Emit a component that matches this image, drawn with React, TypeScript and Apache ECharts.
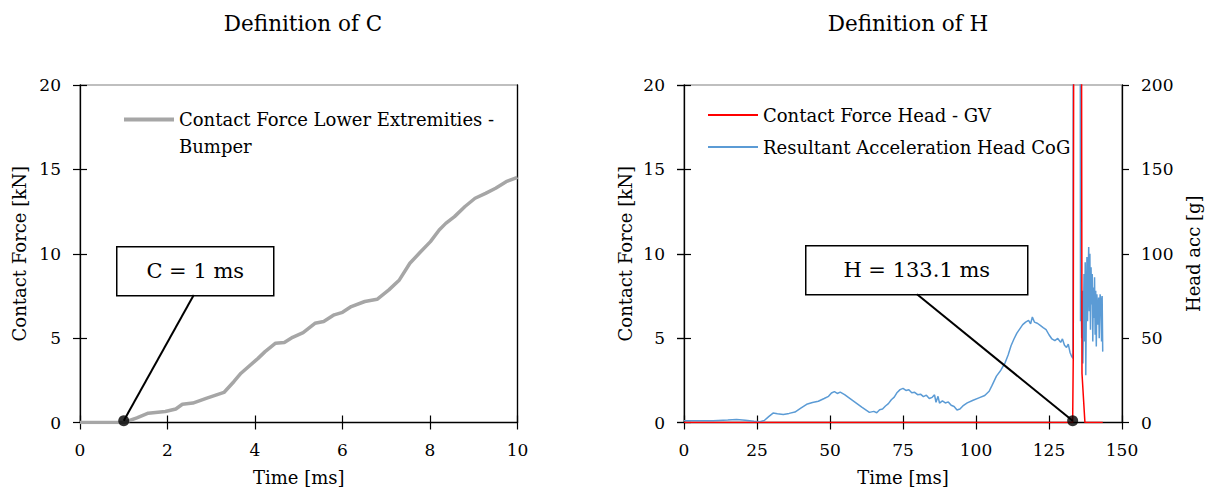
import React, { useEffect, useRef } from "react";
import * as echarts from "echarts";

const FONT = "DejaVu Serif";

// Left chart: Definition of C
const leftTime = [0, 1.0, 1.3, 1.56, 1.95, 2.19, 2.34, 2.58, 2.9, 3.29, 3.52, 3.68, 4.07, 4.23, 4.47, 4.67, 4.86, 5.1, 5.37, 5.57, 5.81, 6.0, 6.2, 6.51, 6.79, 7.06, 7.3, 7.54, 7.77, 8.01, 8.21, 8.36, 8.56, 8.8, 9.03, 9.27, 9.5, 9.74, 10];
const leftForce = [0, 0, 0.28, 0.55, 0.65, 0.8, 1.08, 1.15, 1.44, 1.78, 2.43, 2.92, 3.8, 4.2, 4.7, 4.74, 5.05, 5.33, 5.88, 5.98, 6.38, 6.53, 6.87, 7.17, 7.3, 7.86, 8.45, 9.44, 10.07, 10.72, 11.41, 11.8, 12.2, 12.8, 13.29, 13.58, 13.88, 14.27, 14.53];

// Right chart: Definition of H
const accTime = [0, 5, 10, 15, 18, 21, 24, 26, 27.5, 29, 30.5, 32, 34, 36, 38, 40, 42, 44, 46, 48, 49.5, 50.5, 51.5, 52.5, 53.5, 55, 57, 59, 61, 62.5, 63.5, 65, 66, 67, 68, 69, 70, 71, 72, 73, 74, 75, 76, 77, 78, 79, 80, 81, 82, 83, 84, 85, 85.8, 86.3, 87, 87.5, 88.5, 89.5, 90.5, 91.5, 92.5, 93.5, 94.5, 95.5, 97, 99, 101, 103, 104.5, 105.5, 107, 108.5, 110, 111, 112, 113, 114, 115, 116, 117, 118, 118.7, 119.3, 120, 121, 122, 123, 124, 125, 126, 127, 128, 129, 129.6, 130.3, 131, 131.6, 132.2, 132.8, 133.2, 133.4, 135.6, 135.8, 136.0, 136.2, 136.4, 136.6, 136.8, 137.0, 137.2, 137.4, 137.6, 137.8, 138.0, 138.2, 138.4, 138.6, 138.8, 139.0, 139.2, 139.4, 139.6, 139.8, 140.0, 140.2, 140.4, 140.6, 140.8, 141.0, 141.2, 141.4, 141.7, 142.0, 142.2, 142.5, 142.8, 143.0, 143.2, 143.4];
const accG = [1.0, 1.0, 1.1, 1.5, 1.8, 1.3, 0.8, 0.5, 1.2, 3.5, 5.6, 5.2, 4.8, 5.4, 6.2, 8.5, 10.8, 11.8, 12.6, 14.2, 15.5, 17.5, 18.3, 17.2, 18.0, 16.5, 14.0, 11.5, 9.0, 7.2, 6.0, 6.6, 5.8, 7.6, 8.0, 9.8, 11.2, 13.5, 15.0, 17.8, 19.5, 20.2, 19.0, 19.4, 17.6, 17.9, 16.5, 16.8, 15.3, 16.2, 14.2, 14.9, 16.4, 12.0, 15.5, 11.5, 12.8, 11.6, 12.2, 10.2, 9.5, 7.4, 8.0, 9.8, 11.6, 13.2, 14.6, 16.0, 18.5, 22, 27.5, 31, 35.5, 40, 45.5, 49.5, 53, 55.5, 58, 59.5, 60.5, 58.5, 62.5, 59.5, 58.8, 57.5, 56.2, 55, 52, 49.5, 48.5, 49.8, 47.5, 49.5, 45.8, 44.5, 46.5, 41.5, 39, 38, 400, 400, 60, 72, 50, 78, 35, 62, 88, 48, 95, 28, 70, 98, 60, 85, 104, 66, 100, 55, 92, 70, 88, 48, 80, 62, 86, 52, 78, 45, 76, 58, 74, 50, 76, 72, 48, 75, 42];

const headTime = [0, 133.1, 133.3, 133.6, 136.0, 136.3, 137.3, 143.4];
const headForce = [0, 0, 3.7, 40, 40, 2.9, 0, 0];

const pointC = [1, 0.1];
const pointH = [133.1, 0.1];
const labelC = "C = 1 ms";
const labelH = "H = 133.1 ms";

const leftXTicks = { min: 0, max: 10, interval: 2 };
const rightXTicks = { min: 0, max: 150, interval: 25 };
const forceTicks = { min: 0, max: 20, interval: 5 };
const accTicks = { min: 0, max: 200, interval: 50 };

const zip = (a: number[], b: number[]) => a.map((v, i) => [v, b[i]]);

export default function App() {
  const ref = useRef<HTMLDivElement>(null);
  useEffect(() => {
    if (!ref.current) return;
    const chart = echarts.init(ref.current, null, { renderer: "svg" });
    const axisLine = { show: true, onZero: false, lineStyle: { color: "#000", width: 1.3 } };
    const tickOut = { show: true, inside: false, length: 7, lineStyle: { color: "#000", width: 1.2 } };
    const tickIn = { show: true, inside: true, length: 7, lineStyle: { color: "#000", width: 1.2 } };
    const lbl = { color: "#000", fontSize: 17, fontFamily: FONT };
    const nameStyle = { color: "#000", fontSize: 18, fontFamily: FONT };
    const hidden = { axisLine: { show: false }, axisLabel: { show: false }, splitLine: { show: false }, axisTick: tickIn };

    chart.setOption({
      animation: false,
      textStyle: { fontFamily: FONT },
      title: [
        { text: "Definition of C", left: 298, top: 7, textAlign: "center", textStyle: { fontSize: 21.5, fontWeight: "normal", color: "#000", fontFamily: FONT } },
        { text: "Definition of H", left: 903, top: 7, textAlign: "center", textStyle: { fontSize: 21.5, fontWeight: "normal", color: "#000", fontFamily: FONT } },
      ],
      grid: [
        { left: 80, top: 85, width: 437.5, height: 337.5, show: true, borderColor: "#808080", borderWidth: 1.2 },
        { left: 684, top: 85, width: 438, height: 337.5, show: true, borderColor: "#808080", borderWidth: 1.2 },
      ],
      legend: [
        {
          data: ["Contact Force Lower Extremities - Bumper"],
          left: 119, top: 74, orient: "vertical", icon: "rect", itemWidth: 50, itemHeight: 4,
          formatter: () => " \nContact Force Lower Extremities -\nBumper",
          textStyle: { fontSize: 18, color: "#000", fontFamily: FONT, lineHeight: 27 },
        },
        {
          data: ["Contact Force Head - GV", "Resultant Acceleration Head CoG"],
          left: 703, top: 100, orient: "vertical", icon: "rect", itemWidth: 50, itemHeight: 2, itemGap: 12,
          textStyle: { fontSize: 18, color: "#000", fontFamily: FONT, lineHeight: 20 },
        },
      ],
      xAxis: [
        { type: "value", gridIndex: 0, position: "bottom", ...leftXTicks, axisLine, axisTick: tickOut, axisLabel: { ...lbl, margin: 19 }, splitLine: { show: false }, name: "Time [ms]", nameLocation: "middle", nameGap: 46, nameTextStyle: nameStyle },
        { type: "value", gridIndex: 0, position: "bottom", ...leftXTicks, ...hidden },
        { type: "value", gridIndex: 1, position: "bottom", ...rightXTicks, axisLine, axisTick: tickOut, axisLabel: { ...lbl, margin: 19 }, splitLine: { show: false }, name: "Time [ms]", nameLocation: "middle", nameGap: 46, nameTextStyle: nameStyle },
        { type: "value", gridIndex: 1, position: "bottom", ...rightXTicks, ...hidden },
      ],
      yAxis: [
        { type: "value", gridIndex: 0, position: "left", ...forceTicks, axisLine, axisTick: tickOut, axisLabel: { ...lbl, margin: 19 }, splitLine: { show: false }, name: "Contact Force [kN]", nameLocation: "middle", nameGap: 52, nameRotate: 90, nameTextStyle: nameStyle },
        { type: "value", gridIndex: 0, position: "left", ...forceTicks, ...hidden },
        { type: "value", gridIndex: 0, position: "right", ...forceTicks, axisLine, axisTick: { show: false }, axisLabel: { show: false }, splitLine: { show: false } },
        { type: "value", gridIndex: 1, position: "left", ...forceTicks, axisLine, axisTick: tickOut, axisLabel: { ...lbl, margin: 19 }, splitLine: { show: false }, name: "Contact Force [kN]", nameLocation: "middle", nameGap: 50, nameRotate: 90, nameTextStyle: nameStyle },
        { type: "value", gridIndex: 1, position: "left", ...forceTicks, ...hidden },
        { type: "value", gridIndex: 1, position: "right", ...accTicks, axisLine, axisTick: tickOut, axisLabel: { ...lbl, margin: 19 }, splitLine: { show: false }, name: "Head acc [g]", nameLocation: "middle", nameGap: 62, nameRotate: 90, nameTextStyle: nameStyle },
        { type: "value", gridIndex: 1, position: "right", ...accTicks, ...hidden },
      ],
      series: [
        {
          name: "Contact Force Lower Extremities - Bumper", type: "line", xAxisIndex: 0, yAxisIndex: 0,
          data: zip(leftTime, leftForce), showSymbol: false, symbol: "none",
          lineStyle: { color: "#A6A6A6", width: 3.5 }, itemStyle: { color: "#A6A6A6" },
        },
        {
          type: "scatter", xAxisIndex: 0, yAxisIndex: 0, data: [pointC], symbolSize: 11, itemStyle: { color: "#000" }, z: 5,
          markLine: {
            silent: true, symbol: "none", label: { show: false },
            lineStyle: { color: "#000", width: 2, type: "solid" },
            data: [[{ coord: [2.6, 7.56] }, { coord: pointC }]],
          },
        },
        {
          name: "Resultant Acceleration Head CoG", type: "line", xAxisIndex: 2, yAxisIndex: 5,
          data: zip(accTime, accG), showSymbol: false, symbol: "none",
          lineStyle: { color: "#5B9BD5", width: 1.5 }, itemStyle: { color: "#5B9BD5" },
        },
        {
          name: "Contact Force Head - GV", type: "line", xAxisIndex: 2, yAxisIndex: 3,
          data: zip(headTime, headForce), showSymbol: false, symbol: "none",
          lineStyle: { color: "#FF0000", width: 1.5 }, itemStyle: { color: "#FF0000" },
        },
        {
          type: "scatter", xAxisIndex: 2, yAxisIndex: 3, data: [pointH], symbolSize: 11, itemStyle: { color: "#000" }, z: 5,
          markLine: {
            silent: true, symbol: "none", label: { show: false },
            lineStyle: { color: "#000", width: 2, type: "solid" },
            data: [[{ coord: [79.8, 7.6] }, { coord: pointH }]],
          },
        },
      ],
      graphic: [
        {
          type: "group", left: 116, top: 246, z: 10,
          children: [
            { type: "rect", shape: { x: 0, y: 0, width: 157, height: 49 }, style: { fill: "#fff", stroke: "#000", lineWidth: 1.5 } },
            { type: "text", x: 78.5, y: 24.5, style: { text: labelC, fontSize: 21, fontFamily: FONT, fill: "#000", align: "center", verticalAlign: "middle" } },
          ],
        },
        {
          type: "group", left: 805, top: 245, z: 10,
          children: [
            { type: "rect", shape: { x: 0, y: 0, width: 222, height: 49 }, style: { fill: "#fff", stroke: "#000", lineWidth: 1.5 } },
            { type: "text", x: 111, y: 24.5, style: { text: labelH, fontSize: 21, fontFamily: FONT, fill: "#000", align: "center", verticalAlign: "middle" } },
          ],
        },
      ],
    });
    return () => chart.dispose();
  }, []);
  return <div ref={ref} style={{ position: "fixed", left: 0, top: 0, width: 1215, height: 492, background: "#fff" }} />;
}
